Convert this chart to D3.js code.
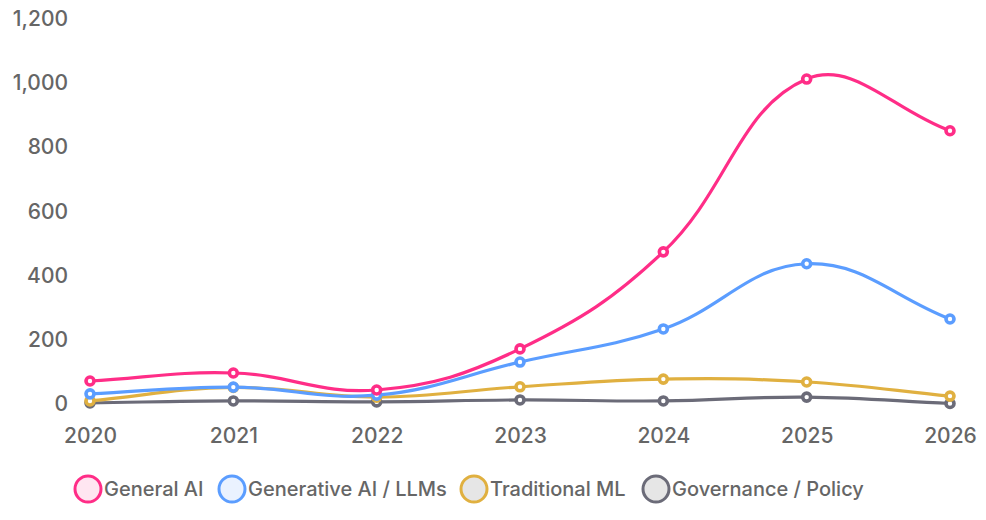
<!DOCTYPE html>
<html><head><meta charset="utf-8">
<script src="https://cdn.jsdelivr.net/npm/d3@7"></script>
<style>
html,body{margin:0;padding:0;background:#fff;}
svg text{font-family:Inter,"Noto Sans",sans-serif;}
</style></head>
<body><svg id="chart" width="986" height="520"></svg>
<script>
const years = ["2020","2021","2022","2023","2024","2025","2026"];
const seriesNames = ["General AI","Generative AI / LLMs","Traditional ML","Governance / Policy"];
const generalAI = [70, 95, 42, 170, 472, 1010, 849];
const generativeAI = [30, 51, 26, 129, 232, 435, 263];
const traditionalML = [8, 50, 20, 52, 76, 67, 23];
const governance = [2, 8, 5, 11, 8, 20, 0];
const yTicks = [0, 200, 400, 600, 800, 1000, 1200];
const colors = ["#ff2d87", "#5b9dff", "#e0b040", "#6b6b78"];
const fills = ["#ffe6f1", "#eaf2ff", "#e6e6e6", "#e6e6e6"];

const data = [generalAI, generativeAI, traditionalML, governance];
const svg = d3.select("#chart");
const x = d3.scalePoint().domain(years).range([90, 950]);
const y = d3.scaleLinear().domain([0, 1200]).range([403.5, 18]);

const yAxis = svg.append("g").attr("transform","translate(68,0)")
  .call(d3.axisLeft(y).tickValues(yTicks).tickSize(0).tickPadding(0).tickFormat(d3.format(",")));
yAxis.select(".domain").remove();
yAxis.selectAll("text").attr("fill","#666").attr("font-size","21px").attr("font-weight","500").attr("dy","0.35em");

const xAxis = svg.append("g").attr("transform","translate(0,428)")
  .call(d3.axisBottom(x).tickSize(0).tickPadding(0));
xAxis.select(".domain").remove();
xAxis.selectAll("text").attr("fill","#666").attr("font-size","21px").attr("font-weight","500").attr("dy","0.71em");

// spline with tension (distance-weighted control points)
function splinePath(vals, tension) {
  const pts = vals.map((v,i)=>[x(years[i]), y(v)]);
  const n = pts.length;
  const cps = pts.map((p,i)=>{
    const prev = pts[Math.max(0,i-1)], next = pts[Math.min(n-1,i+1)];
    const d01 = Math.hypot(p[0]-prev[0], p[1]-prev[1]);
    const d12 = Math.hypot(next[0]-p[0], next[1]-p[1]);
    let s01 = d01/(d01+d12), s12 = d12/(d01+d12);
    if (!isFinite(s01)) s01 = 0; if (!isFinite(s12)) s12 = 0;
    const fa = tension*s01, fb = tension*s12;
    return {
      prev: [p[0]-fa*(next[0]-prev[0]), p[1]-fa*(next[1]-prev[1])],
      next: [p[0]+fb*(next[0]-prev[0]), p[1]+fb*(next[1]-prev[1])]
    };
  });
  const path = d3.path();
  path.moveTo(pts[0][0], pts[0][1]);
  for (let i=1;i<n;i++){
    const c1 = cps[i-1].next, c2 = cps[i].prev;
    path.bezierCurveTo(c1[0],c1[1],c2[0],c2[1],pts[i][0],pts[i][1]);
  }
  return path.toString();
}

for (let s = data.length-1; s >= 0; s--) {
  const g = svg.append("g");
  g.append("path").attr("d", splinePath(data[s], 0.4)).attr("fill","none")
    .attr("stroke", colors[s]).attr("stroke-width", 3.2).attr("stroke-linecap","round");
  g.selectAll("circle").data(data[s]).enter().append("circle")
    .attr("cx",(d,i)=>x(years[i])).attr("cy",d=>y(d)).attr("r",4)
    .attr("fill","#fff").attr("stroke",colors[s]).attr("stroke-width",3.6);
}

const legendX = [88, 232, 474, 656];
const lg = svg.append("g");
seriesNames.forEach((n,i)=>{
  lg.append("circle").attr("cx",legendX[i]).attr("cy",489).attr("r",13)
    .attr("fill",fills[i]).attr("stroke",colors[i]).attr("stroke-width",3);
  lg.append("text").attr("x",legendX[i]+16).attr("y",489).attr("dy","0.35em")
    .attr("fill","#666").attr("font-size","20px").attr("font-weight","500").text(n);
});
</script></body></html>
